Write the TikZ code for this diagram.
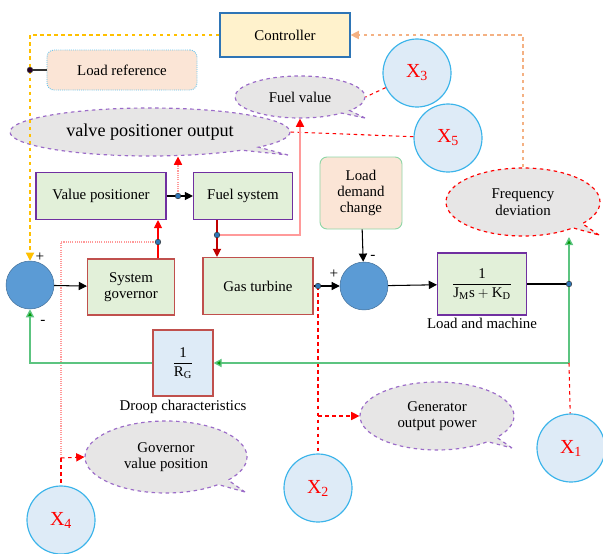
\documentclass[tikz,border=0pt]{standalone}
\usepackage{fontspec}
\setmainfont{Liberation Serif}
\usetikzlibrary{positioning, shapes.callouts, arrows.meta}

\definecolor{boxgreen}{HTML}{E2F0D9}
\definecolor{boxpurple}{HTML}{7030A0}
\definecolor{boxred}{HTML}{C0504D}
\definecolor{peach}{HTML}{FBE5D6}
\definecolor{lightblue}{HTML}{DEEBF7}
\definecolor{cyanline}{HTML}{3BB4EA}
\definecolor{sumblue}{HTML}{5B9BD5}
\definecolor{ctrlfill}{HTML}{FFF2CC}
\definecolor{ctrlline}{HTML}{2E75B6}
\definecolor{yelline}{HTML}{FFC000}
\definecolor{orgline}{HTML}{F4B183}
\definecolor{grnline}{HTML}{5CC480}
\definecolor{pinkline}{HTML}{FF9A9A}
\definecolor{bubblegray}{HTML}{E7E6E6}
\definecolor{bubbleline}{HTML}{9B6BC8}
\definecolor{darkred}{HTML}{C00000}

\begin{document}
\begin{tikzpicture}[x=0.03cm, y=-0.03cm, >={Triangle[length=7pt,width=7pt]},
    txt/.style={font=\fontsize{12.7}{14}\selectfont, align=center},
    blk/.style={txt, rectangle, draw=boxpurple, fill=boxgreen, line width=0.9pt},
    redblk/.style={blk, draw=boxred},
    roundblk/.style={txt, rectangle, rounded corners=6pt, fill=peach, line width=0.8pt},
    summer/.style={circle, fill=sumblue, draw=sumblue!70!black, minimum size=1.44cm, inner sep=0pt},
    xcirc/.style={circle, fill=lightblue, draw=cyanline, line width=1pt, minimum size=2.04cm, inner sep=0pt,
        text=red, font=\fontsize{17}{18}\selectfont},
    bubble/.style={txt, ellipse callout, callout pointer arc=10, fill=bubblegray, draw=bubbleline,
        dashed, line width=1pt, inner sep=1pt},
    jdot/.style={circle, fill=ctrlline, draw=black!80, inner sep=0pt, minimum size=0.17cm},
    sign/.style={font=\fontsize{13}{14}\selectfont, inner sep=0pt},
    reddash/.style={red, dashed, line width=0.9pt},
    pinkdot/.style={pinkline, densely dotted, line width=0.9pt}]

    \useasboundingbox (0,0) rectangle (603,554);

    %Bloecke oben
    \node[txt, rectangle, fill=ctrlfill, draw=ctrlline, line width=1pt, minimum width=3.9cm, minimum height=1.32cm](ctrl) at (285,35){Controller};
    \node[roundblk, draw=cyanline!80, densely dotted, minimum width=4.5cm, minimum height=1.2cm](lr) at (122,70){Load reference};
    \node[bubble, minimum width=3.9cm, minimum height=1.26cm, callout absolute pointer={(365,118)}](fv) at (300,97){Fuel value};
    \node[bubble, font=\fontsize{15.5}{16}\selectfont, minimum width=8.4cm, minimum height=1.44cm, callout absolute pointer={(288,155)}](vpo) at (150,132){valve positioner output};
    \node[xcirc](x3) at (417,73){X\textsubscript{3}};
    \node[xcirc](x5) at (448,138){X\textsubscript{5}};

    %Regelkreis
    \node[blk, minimum width=3.9cm, minimum height=1.41cm](vp) at (101,196){Value positioner};
    \node[blk, minimum width=2.97cm, minimum height=1.41cm](fs) at (243,196){Fuel system};
    \node[summer](s1) at (30,285){};
    \node[redblk, minimum width=2.61cm, minimum height=1.68cm](sg) at (131,287){System\\governor};
    \node[redblk, minimum width=3.3cm, minimum height=1.71cm](gt) at (258,286){Gas turbine};
    \node[summer](s2) at (364,286){};
    \node[roundblk, draw=grnline!70, minimum width=2.46cm, minimum height=2.16cm](ldc) at (361,193){Load\\demand\\change};
    \node[blk, minimum width=2.67cm, minimum height=1.86cm](lm) at (482,284){$\displaystyle\frac{\mbox{1}}{\mbox{J\textsubscript{M}s}+\mbox{K\textsubscript{D}}}$};
    \node[txt, below = 1pt of lm, inner sep=1pt](lml){Load and machine};
    \node[redblk, fill=lightblue, minimum width=1.8cm, minimum height=1.98cm](droop) at (183,363){$\displaystyle\frac{\mbox{1}}{\mbox{R\textsubscript{G}}}$};
    \node[txt, below = 2pt of droop, inner sep=1pt](drl){Droop characteristics};
    \node[bubble, draw=red, minimum width=4.62cm, minimum height=2.04cm, callout absolute pointer={(599,235)}](fd) at (523,202){Frequency\\deviation};

    %Vorzeichen
    \node[sign](p1) at (40,257){+};
    \node[sign](m1) at (43,322){-};
    \node[sign](p2) at (334,274){+};
    \node[sign](m2) at (373,257){-};

    %Bloecke unten
    \node[bubble, minimum width=4.62cm, minimum height=2.04cm, callout absolute pointer={(512,448)}](gop) at (437,416){Generator\\output power};
    \node[bubble, minimum width=4.86cm, minimum height=2.16cm, callout absolute pointer={(245,492)}](gvp) at (166,457){Governor\\value position};
    \node[xcirc](x1) at (571,448){X\textsubscript{1}};
    \node[xcirc](x2) at (318,488){X\textsubscript{2}};
    \node[xcirc](x4) at (61,520){X\textsubscript{4}};

    %Abzweigpunkte
    \coordinate(d0) at (30,70);
    \coordinate(d1) at (178,196);
    \coordinate(d2) at (217,235);
    \coordinate(d3) at (158,242);
    \coordinate(d4) at (318,286);
    \coordinate(d5) at (569,284);
    \coordinate(c4) at (61,458);
    \coordinate(c5) at (569,363);
    \coordinate(ft) at (569,237);

    \draw[yelline, dashed, line width=1pt, ->](ctrl.west) -| (s1.north);
    \draw[orgline, dashed, line width=1pt, ->](fd.north) |- (ctrl.east);
    \draw[black!80, line width=0.9pt](d0) -- (lr.west);
    \draw[reddash](x3) -- (fv.east);
    \draw[reddash](x5) -- (vpo.east);

    \draw[line width=0.9pt, ->](vp) -- (fs);
    \draw[pinkdot, -{Triangle[length=7pt,width=7pt,fill=red,color=red]}](d1) -- (d1 |- vpo.south);
    \draw[darkred, line width=1pt, ->](fs.south -| d2) -- (gt.north -| d2);
    \draw[pinkline, line width=0.9pt, -{Triangle[length=7pt,width=7pt,fill=red,color=red]}](d2) -| (fv.south);
    \draw[red, line width=0.9pt, ->](sg.north -| d3) -- (vp.south -| d3);
    \draw[pinkdot](d3) -| (c4);
    \draw[reddash](c4) -- (x4);
    \draw[reddash, ->](c4) -- (gvp.west);

    \draw[line width=0.9pt, ->](s1) -- (sg);
    \draw[line width=0.9pt, ->](gt) -- (s2);
    \draw[line width=0.9pt, ->](ldc) -- (s2);
    \draw[line width=0.9pt, ->](s2) -- (lm);
    \draw[line width=0.9pt](lm) -- (d5);
    \draw[reddash](d4) -- (x2);
    \draw[reddash, ->](d4 |- gop.west) -- (gop.west);

    \draw[grnline, line width=1.2pt, -{Triangle[length=7pt,width=7pt,fill=green!60!black]}](c5) -- (ft);
    \draw[grnline, line width=1.2pt, -{Triangle[length=7pt,width=7pt,fill=green!60!black]}](c5) -- (droop.east);
    \draw[grnline, line width=1.2pt, -{Triangle[length=7pt,width=7pt,fill=green!60!black]}](droop.west) -| (s1.south);
    \draw[reddash](c5) -- (x1);

    \node[jdot, fill=black!70!violet](j0) at (d0){};
    \node[jdot](j1) at (d1){};
    \node[jdot](j2) at (d2){};
    \node[jdot](j3) at (d3){};
    \node[jdot](j4) at (d4){};
    \node[jdot](j5) at (d5){};
\end{tikzpicture}
\end{document}
